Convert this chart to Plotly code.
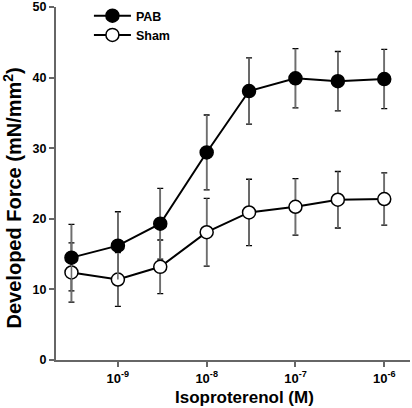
import plotly.graph_objects as go

conc = [3e-10, 1e-9, 3e-9, 1e-8, 3e-8, 1e-7, 3e-7, 1e-6]
pab = [14.5, 16.2, 19.3, 29.4, 38.1, 39.9, 39.5, 39.8]
pab_err = [4.7, 4.8, 5.0, 5.3, 4.7, 4.2, 4.2, 4.2]
sham = [12.4, 11.4, 13.2, 18.1, 20.9, 21.7, 22.7, 22.8]
sham_err = [4.2, 3.8, 3.8, 4.8, 4.7, 4.0, 4.0, 3.7]
xtick_vals = [1e-9, 1e-8, 1e-7, 1e-6]
xtick_text = ["10<sup>-9</sup>", "10<sup>-8</sup>", "10<sup>-7</sup>", "10<sup>-6</sup>"]
ytick_vals = [0, 10, 20, 30, 40, 50]
x_title = "Isoproterenol (M)"
y_title = "Developed Force (mN/mm<sup>2</sup>)"

FONT = "Liberation Sans, Arial, Helvetica, sans-serif"
L, R, T, B = 56, 2, 6, 48
W, H = 412, 408
PW, PH = W - L - R, H - T - B

fig = go.Figure()
# black caps layer (drawn first, vertical part later covered by grey)
for ys, es in ((sham, sham_err), (pab, pab_err)):
    fig.add_trace(go.Scatter(
        x=conc, y=ys, mode="markers", showlegend=False, hoverinfo="skip",
        marker=dict(size=1, opacity=0),
        error_y=dict(type="data", array=es, color="black", thickness=1.3, width=3),
    ))
fig.add_trace(go.Scatter(
    x=conc, y=sham, name="Sham", mode="lines+markers",
    line=dict(color="black", width=2),
    marker=dict(size=13, color="white", line=dict(color="black", width=1.5)),
    error_y=dict(type="data", array=sham_err, color="#6e6e6e", thickness=1.6, width=0),
))
fig.add_trace(go.Scatter(
    x=conc, y=pab, name="PAB", mode="lines+markers",
    line=dict(color="black", width=2),
    marker=dict(size=13, color="black", line=dict(color="black", width=1.5)),
    error_y=dict(type="data", array=pab_err, color="#6e6e6e", thickness=1.6, width=0),
))

fig.update_layout(
    width=W, height=H,
    margin=dict(l=L, r=R, t=T, b=B),
    paper_bgcolor="white", plot_bgcolor="white",
    font=dict(family=FONT, size=12, color="black", weight="bold"),
    showlegend=True,
    legend=dict(x=0.093, y=1.014, xanchor="left", yanchor="top",
                traceorder="reversed", font=dict(size=12.5, weight="bold"),
                bgcolor="rgba(0,0,0,0)", itemwidth=37, tracegroupgap=0),
    annotations=[
        dict(text=x_title, xref="paper", yref="paper",
             x=(244.5 - L) / PW, y=-(409 - T - PH) / PH,
             xanchor="center", yanchor="bottom", showarrow=False,
             font=dict(size=17, weight="bold")),
        dict(text=y_title, xref="paper", yref="paper", textangle=-90,
             x=(12 - L) / PW, y=(H - B - 198) / PH,
             xanchor="center", yanchor="middle", showarrow=False,
             font=dict(size=20, weight="bold")),
    ],
)
fig.update_xaxes(
    type="log", range=[-9.697, -5.71], automargin=False,
    tickvals=xtick_vals, ticktext=xtick_text,
    ticks="outside", ticklen=5, tickwidth=1.5, tickcolor="#666",
    showline=True, linecolor="#666", linewidth=2,
    showgrid=False, zeroline=False,
    tickfont=dict(size=13, weight="bold"),
)
fig.update_yaxes(
    range=[0, 50], tickvals=ytick_vals, automargin=False,
    ticks="outside", ticklen=5, tickwidth=1.5, tickcolor="#666",
    showline=True, linecolor="#666", linewidth=2,
    showgrid=False, zeroline=False,
    tickfont=dict(size=12.5, weight="bold"),
)

fig.write_html("out.html", config={"displayModeBar": False},
               post_script="document.body.style.margin='0';")
